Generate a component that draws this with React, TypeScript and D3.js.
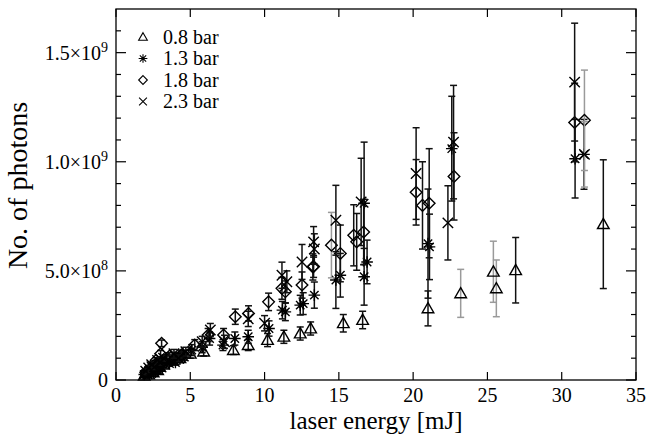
import React from 'react';
import * as d3 from 'd3';

const W = 649;
const H = 435;
const M = { left: 116, right: 13, top: 9, bottom: 55 };

const SERIES = ['0.8 bar', '1.3 bar', '1.8 bar', '2.3 bar'];
const X_TICKS = [0, 5, 10, 15, 20, 25, 30, 35];
// y values are in units of 1e8 photons
const Y_MAJOR = [0, 5, 10, 15];
const Y_LABELS = [['0', ''], ['5.0×10', '8'], ['1.0×10', '9'], ['1.5×10', '9']];

// 0.8 bar (triangles)
const triX = [1.9, 2.0, 2.2, 2.3, 2.5, 2.6, 2.8, 2.9, 3.2, 3.8, 4.3, 5.0, 5.9, 7.9, 8.9, 10.2, 11.3, 12.4, 13.1, 15.3, 16.6, 21.0, 23.2, 25.4, 25.6, 26.9, 32.8];
const triY = [0.2, 0.3, 0.25, 0.4, 0.35, 0.5, 0.45, 0.6, 0.7, 0.9, 1.0, 1.2, 1.3, 1.37, 1.6, 1.83, 1.98, 2.13, 2.36, 2.6, 2.75, 3.28, 3.97, 4.96, 4.2, 5.03, 7.14];
const triE = [0.08, 0.1, 0.1, 0.1, 0.1, 0.1, 0.1, 0.12, 0.12, 0.15, 0.15, 0.2, 0.2, 0.2, 0.25, 0.3, 0.3, 0.3, 0.3, 0.4, 0.4, 0.8, 1.1, 1.4, 1.3, 1.5, 2.95];
const triGrey = [22, 23, 24];

// 1.3 bar (stars)
const starX = [1.9, 2.0, 2.1, 2.2, 2.3, 2.35, 2.4, 2.5, 2.6, 2.7, 2.8, 2.9, 3.0, 3.1, 3.2, 3.4, 3.6, 3.8, 4.0, 4.2, 4.3, 4.5, 4.6, 5.1, 5.8, 6.3, 7.2, 8.0, 8.9, 10.3, 11.2, 11.4, 12.4, 12.6, 13.35, 14.8, 15.1, 16.7, 16.9, 16.7, 21.0, 21.1, 22.6, 30.9, 31.5];
const starY = [0.25, 0.3, 0.35, 0.45, 0.5, 0.65, 0.3, 0.4, 0.55, 0.6, 0.45, 0.75, 0.65, 0.55, 0.9, 0.85, 0.75, 1.0, 0.8, 1.1, 0.95, 1.2, 1.05, 1.37, 1.5, 1.9, 1.6, 1.9, 1.98, 2.36, 3.2, 3.12, 3.43, 3.5, 3.89, 4.58, 4.8, 4.73, 5.41, 8.1, 6.25, 6.1, 10.6, 10.14, 10.34];
const starE = [0.08, 0.08, 0.1, 0.1, 0.1, 0.1, 0.1, 0.1, 0.1, 0.12, 0.1, 0.12, 0.12, 0.1, 0.12, 0.12, 0.12, 0.15, 0.12, 0.15, 0.15, 0.15, 0.15, 0.25, 0.25, 0.3, 0.25, 0.3, 0.3, 0.35, 0.4, 0.4, 0.45, 0.5, 0.6, 1.3, 1.0, 1.3, 1.0, 2.8, 2.5, 1.5, 2.4, 1.8, 1.6];
const starGrey: number[] = [];

// 1.8 bar (diamonds)
const diaX = [2.0, 2.2, 2.5, 2.7, 2.8, 3.0, 3.07, 3.3, 3.6, 4.4, 5.3, 6.2, 7.24, 8.03, 8.92, 10.27, 11.17, 11.4, 12.52, 13.25, 13.3, 14.5, 15.1, 16.0, 16.2, 16.67, 20.2, 20.63, 21.08, 22.75, 30.87, 31.53];
const diaY = [0.35, 0.45, 0.65, 0.9, 0.8, 1.2, 1.68, 1.0, 1.1, 1.15, 1.6, 2.06, 2.06, 2.9, 3.05, 3.58, 4.2, 4.04, 4.35, 5.18, 5.2, 6.18, 5.8, 6.63, 6.33, 6.78, 8.6, 8.0, 8.1, 9.33, 11.8, 11.9];
const diaE = [0.1, 0.1, 0.12, 0.12, 0.12, 0.15, 0.15, 0.15, 0.15, 0.15, 0.25, 0.3, 0.3, 0.35, 0.35, 0.4, 0.5, 0.5, 0.6, 0.6, 0.5, 1.5, 1.3, 1.4, 1.3, 1.5, 1.5, 2.0, 2.5, 2.0, 1.8, 2.3];
const diaGrey = [21, 31];

// 2.3 bar (crosses)
const crossX = [2.0, 2.2, 2.4, 2.6, 2.8, 3.0, 3.2, 3.9, 4.2, 4.7, 5.8, 6.35, 7.3, 8.9, 10.0, 11.17, 11.5, 12.52, 13.3, 13.35, 14.8, 16.5, 20.2, 22.34, 22.72, 30.87, 31.53];
const crossY = [0.4, 0.55, 0.7, 0.6, 0.9, 0.8, 1.0, 1.2, 1.0, 1.3, 1.75, 2.29, 1.75, 2.8, 2.6, 4.8, 4.5, 5.41, 6.33, 6.0, 7.32, 8.16, 9.46, 7.2, 10.9, 13.65, 10.34];
const crossE = [0.1, 0.1, 0.12, 0.12, 0.12, 0.12, 0.12, 0.2, 0.15, 0.2, 0.25, 0.3, 0.3, 0.35, 0.35, 0.6, 0.5, 0.8, 0.7, 0.7, 1.6, 2.0, 2.1, 1.7, 2.6, 2.7, 1.5];
const crossGrey = [26];

type Kind = 'tri' | 'star' | 'dia' | 'cross';

function markerPath(kind: Kind, k = 1): string {
  const p = d3.path();
  if (kind === 'tri') {
    const s = 5.8 * k;
    p.moveTo(0, -s); p.lineTo(s, s * 0.75); p.lineTo(-s, s * 0.75); p.closePath();
  } else if (kind === 'dia') {
    const s = 5.8 * k;
    p.moveTo(0, -s); p.lineTo(s, 0); p.lineTo(0, s); p.lineTo(-s, 0); p.closePath();
  } else if (kind === 'cross') {
    const s = 5.2 * k;
    p.moveTo(-s, -s); p.lineTo(s, s); p.moveTo(-s, s); p.lineTo(s, -s);
  } else {
    const s = 5.8 * k, d = 4.2 * k;
    p.moveTo(0, -s); p.lineTo(0, s); p.moveTo(-s, 0); p.lineTo(s, 0);
    p.moveTo(-d, -d); p.lineTo(d, d); p.moveTo(-d, d); p.lineTo(d, -d);
  }
  return p.toString();
}

const SETS: { kind: Kind; xs: number[]; ys: number[]; es: number[]; grey: number[] }[] = [
  { kind: 'tri', xs: triX, ys: triY, es: triE, grey: triGrey },
  { kind: 'star', xs: starX, ys: starY, es: starE, grey: starGrey },
  { kind: 'dia', xs: diaX, ys: diaY, es: diaE, grey: diaGrey },
  { kind: 'cross', xs: crossX, ys: crossY, es: crossE, grey: crossGrey },
];

export default function App() {
  const x = d3.scaleLinear().domain([0, 35]).range([M.left, W - M.right]);
  const y = d3.scaleLinear().domain([0, 17]).range([H - M.bottom, M.top]);
  const x0 = M.left, x1 = W - M.right, y0 = H - M.bottom, y1 = M.top;
  const font = '"Liberation Serif", "Times New Roman", serif';
  const minorY = d3.range(1, 17).filter(v => v % 5 !== 0);

  return (
    <svg width={W} height={H} style={{ position: 'absolute', left: 0, top: 0, background: '#fff' }} fontFamily={font}>
      <rect x={0} y={0} width={W} height={H} fill="#fff" />

      {/* error bars and markers */}
      {SETS.map(s => (
        <g key={s.kind}>
          {s.xs.map((xv, i) => {
            const cx = x(xv);
            const top = y(s.ys[i] + s.es[i]);
            const bot = y(Math.max(0, s.ys[i] - s.es[i]));
            const col = s.grey.includes(i) ? '#9a9a9a' : '#111';
            return (
              <g key={i} stroke={col} strokeWidth={1.5}>
                <line x1={cx} x2={cx} y1={top} y2={bot} />
                <line x1={cx - 3.5} x2={cx + 3.5} y1={top} y2={top} />
                <line x1={cx - 3.5} x2={cx + 3.5} y1={bot} y2={bot} />
              </g>
            );
          })}
          {s.xs.map((xv, i) => (
            <path key={'m' + i} d={markerPath(s.kind)} transform={`translate(${x(xv)},${y(s.ys[i])})`}
              fill="none" stroke="#000" strokeWidth={1.4} />
          ))}
        </g>
      ))}

      {/* frame */}
      <rect x={x0} y={y1} width={x1 - x0} height={y0 - y1} fill="none" stroke="#000" strokeWidth={1.3} />

      {/* x ticks */}
      {X_TICKS.map(t => (
        <g key={'xt' + t}>
          <line x1={x(t)} x2={x(t)} y1={y0} y2={y0 - 8} stroke="#000" strokeWidth={1.2} />
          <line x1={x(t)} x2={x(t)} y1={y1} y2={y1 + 8} stroke="#000" strokeWidth={1.2} />
          <text x={x(t)} y={402} textAnchor="middle" fontSize={20}>{t}</text>
        </g>
      ))}

      {/* y ticks */}
      {Y_MAJOR.map((t, i) => (
        <g key={'yt' + t}>
          <line x1={x0} x2={x0 + 10} y1={y(t)} y2={y(t)} stroke="#000" strokeWidth={1.2} />
          <line x1={x1} x2={x1 - 10} y1={y(t)} y2={y(t)} stroke="#000" strokeWidth={1.2} />
          <text x={108} y={y(t) + 7} textAnchor="end" fontSize={20}>
            {Y_LABELS[i][0]}
            {Y_LABELS[i][1] && <tspan dy={-8} fontSize={14}>{Y_LABELS[i][1]}</tspan>}
          </text>
        </g>
      ))}
      {minorY.map(t => (
        <g key={'ym' + t}>
          <line x1={x0} x2={x0 + 5} y1={y(t)} y2={y(t)} stroke="#000" strokeWidth={1.2} />
          <line x1={x1} x2={x1 - 5} y1={y(t)} y2={y(t)} stroke="#000" strokeWidth={1.2} />
        </g>
      ))}

      {/* axis titles */}
      <text x={(x0 + x1) / 2} y={429} textAnchor="middle" fontSize={25}>laser energy [mJ]</text>
      <text transform={`translate(27,${(y0 + y1) / 2 - 9}) rotate(-90)`} textAnchor="middle" fontSize={28}>No. of photons</text>

      {/* legend */}
      {SERIES.map((name, i) => (
        <g key={name}>
          <path d={markerPath(SETS[i].kind, 0.75)} transform={`translate(143,${37 + i * 21.5})`}
            fill="none" stroke="#000" strokeWidth={1.1} />
          <text x={163} y={43.5 + i * 21.5} fontSize={20}>{name}</text>
        </g>
      ))}
    </svg>
  );
}
